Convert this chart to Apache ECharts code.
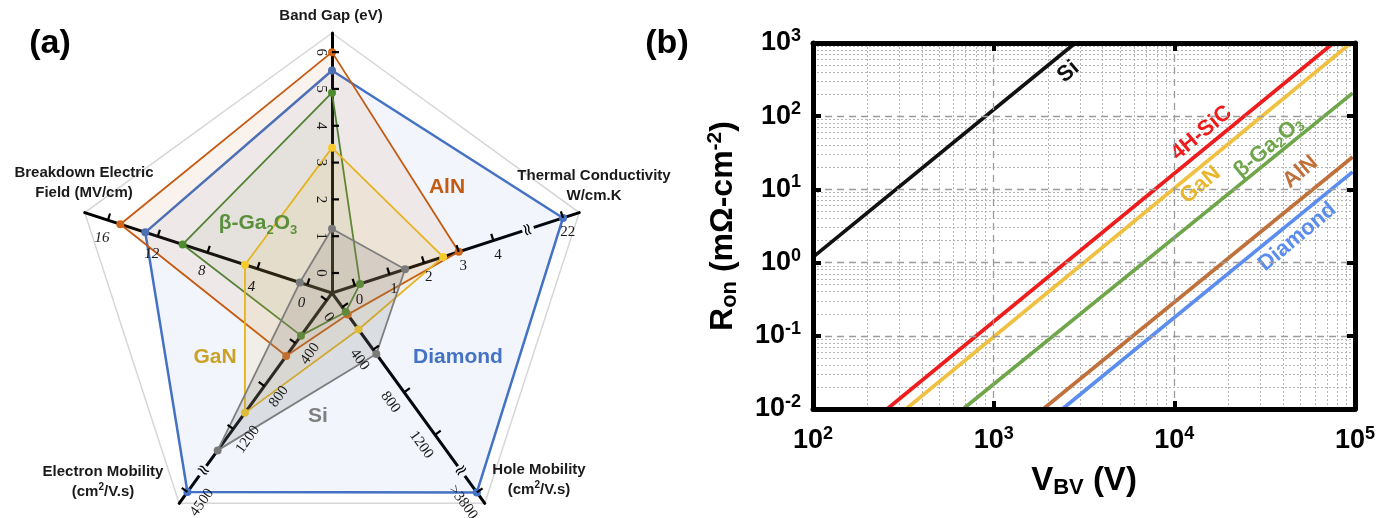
<!DOCTYPE html>
<html><head><meta charset="utf-8">
<script src="https://cdn.jsdelivr.net/npm/echarts@6/dist/echarts.min.js"></script>
<style>html,body{margin:0;padding:0;background:#fff}#c{width:1390px;height:518px}</style>
</head><body><div id="c"></div>
<script>
// ================= Panel (a): radar data =================
const materials = ['Diamond', 'AlN', 'β-Ga2O3', 'GaN', 'Si'];
const bandGap          = [5.5, 6.0, 4.9, 3.4, 1.2];      // eV
const breakdownField   = [13, 15, 10, 5, 0.6];           // MV/cm
const electronMobility = [4500, 520, 330, 1050, 1400];   // cm2/V.s
const holeMobility     = [3800, 70, 45, 210, 440];       // cm2/V.s
const thermalCond      = [22, 3.0, 0.15, 2.55, 1.45];    // W/cm.K

// tick values and labels of each radar axis
const bandGapTicks = [0, 1, 2, 3, 4, 5, 6];
const bandGapTickLabels = ['0', '1', '2', '3', '4', '5', '6'];
const breakdownTicks = [0, 4, 8, 12, 16];
const breakdownTickLabels = ['0', '4', '8', '12', '16'];
const electronTicks = [0, 400, 800, 1200, 4500];
const electronTickLabels = ['', '400', '800', '1200', '4500'];
const holeTicks = [0, 400, 800, 1200, 3800];
const holeTickLabels = ['0', '400', '800', '1200', '>3800'];
const thermalTicks = [0, 1, 2, 3, 4, 22];
const thermalTickLabels = ['0', '1', '2', '3', '4', '22'];

// axis breaks (collapsed value ranges) of the broken axes
const electronBreak = {start: 1590, end: 4302};
const holeBreak = {start: 1540, end: 3599};
const thermalBreak = {start: 5.0, end: 20.99};

// ================= Panel (b): Ron vs VBV =================
const lineNames = ['Si', '4H-SiC', 'GaN', 'β-Ga2O3', 'AlN', 'Diamond'];
const siLine      = [[100, 1.19], [2830, 1000]];
const sicLine     = [[257, 0.01], [76000, 1000]];
const ganLine     = [[327, 0.01], [95000, 1000]];
const ga2o3Line   = [[677, 0.01], [97000, 207]];
const alnLine     = [[1880, 0.01], [97000, 27.7]];
const diamondLine = [[2400, 0.01], [97000, 17.3]];
const xTickValues = [100, 1000, 10000, 100000];
const yTickValues = [0.01, 0.1, 1, 10, 100, 1000];

// ================= styling =================
const radarColors = {Diamond: '#4472C4', AlN: '#C55A11', 'β-Ga2O3': '#548235', GaN: '#E6B422', Si: '#7F7F7F'};
const radarDot = {Diamond: '#4472C4', AlN: '#D2661A', 'β-Ga2O3': '#4E8A2E', GaN: '#F7CB2A', Si: '#7A7A7A'};
const radarFill = {Diamond: 0.07, AlN: 0.08, 'β-Ga2O3': 0.06, GaN: 0.09, Si: 0.2};
const lineColors = {'Si': '#111111', '4H-SiC': '#EE1C1C', 'GaN': '#F0C040', 'β-Ga2O3': '#6FA64A', 'AlN': '#C0703A', 'Diamond': '#5B8DEF'};

const SANS = 'Liberation Sans, Arial, sans-serif';
const SERIF = 'Liberation Serif, DejaVu Serif, serif';

function toAxis(v, brk) {
  if (!brk || v <= brk.start) return v;
  return v - (brk.end - brk.start);
}

// radar axis definitions (order = counter-clockwise from top)
const radarAxes = [
  {name: 'Band Gap (eV)', min: -0.543, max: 6.52, values: bandGap, ticks: bandGapTicks, labels: bandGapTickLabels, brk: null,
   tickSide: 1, labelSide: -1, labelDist: 11, labelRot: -Math.PI / 2, italic: false},
  {name: 'Breakdown', min: -1.985, max: 17.86, values: breakdownField, ticks: breakdownTicks, labels: breakdownTickLabels, brk: null,
   tickSide: 1, labelSide: -1, labelDist: 19, labelRot: 0, italic: true},
  {name: 'Electron', min: -67.9, max: 1894, values: electronMobility, ticks: electronTicks, labels: electronTickLabels, brk: electronBreak,
   tickSide: 1, labelSide: -1, labelDist: 18, labelRot: 54 * Math.PI / 180, italic: false},
  {name: 'Hole', min: -133, max: 1844, values: holeMobility, ticks: holeTicks, labels: holeTickLabels, brk: holeBreak,
   tickSide: -1, labelSide: 1, labelDist: 17, labelRot: -54 * Math.PI / 180, italic: false},
  {name: 'Thermal', min: -0.659, max: 6.48, values: thermalCond, ticks: thermalTicks, labels: thermalTickLabels, brk: thermalBreak,
   tickSide: -1, labelSide: 1, labelDist: 15, labelRot: 0, italic: false}
];

const radarSeries = materials.map((m, k) => ({
  type: 'radar', radarIndex: 0, name: m, z: 2 + k,
  symbol: 'circle', symbolSize: 8,
  itemStyle: {color: radarDot[m]},
  lineStyle: {color: radarColors[m], width: m === 'Diamond' ? 2.5 : 1.8},
  areaStyle: {color: radarColors[m], opacity: radarFill[m]},
  data: [{name: m, value: radarAxes.map(a => toAxis(a.values[k], a.brk))}]
}));

// ---------------- panel (b) series ----------------
const lineData = [siLine, sicLine, ganLine, ga2o3Line, alnLine, diamondLine];
const lineLabelAnchor = {
  'Si': [2590, 402], '4H-SiC': [14120, 58.9], 'GaN': [13930, 11.5],
  'β-Ga2O3': [33190, 37.9], 'AlN': [49900, 17.3], 'Diamond': [47990, 2.24]
};
const lineLabelText = {'β-Ga2O3': '{t|β-Ga}{s|2}{t|O}{s|3}'};

const lineSeries = lineNames.map((n, k) => ({
  type: 'line', name: n, xAxisIndex: 0, yAxisIndex: 0, z: 4,
  data: lineData[k], showSymbol: false, symbol: 'none',
  lineStyle: {color: lineColors[n], width: 3.6},
  markPoint: {
    symbol: 'rect', symbolSize: 1, silent: true,
    itemStyle: {color: 'rgba(0,0,0,0)'},
    label: {
      show: true, position: 'inside', rotate: 40,
      color: n === 'GaN' ? '#E8B62C' : lineColors[n],
      fontFamily: SANS, fontWeight: 'bold', fontSize: 22,
      formatter: lineLabelText[n] || n,
      rich: {t: {fontFamily: SANS, fontWeight: 'bold', fontSize: 22, color: lineColors[n]},
             s: {fontFamily: SANS, fontWeight: 'bold', fontSize: 14, color: lineColors[n], verticalAlign: 'bottom', padding: [10, 0, 0, 0]}}
    },
    data: [{coord: lineLabelAnchor[n]}]
  }
}));

// minor grid lines of the log axes
const minorX = [], minorY = [];
xTickValues.slice(0, -1).forEach(d => { for (let m = 2; m <= 9; m++) minorX.push(m * d); });
yTickValues.slice(0, -1).forEach(d => { for (let m = 2; m <= 9; m++) minorY.push(+(m * d).toPrecision(3)); });

const gridHelper = {
  type: 'line', xAxisIndex: 0, yAxisIndex: 0, z: 1, data: [], silent: true,
  markLine: {
    silent: true, z: 1, symbol: ['none', 'none'], label: {show: false},
    lineStyle: {color: '#b5b5b5', type: [2, 2], width: 1},
    data: minorX.map(v => ({xAxis: v})).concat(minorY.map(v => ({yAxis: v})))
  }
};

function expLabel(v) {
  const e = Math.round(Math.log10(v));
  return '{b|10}{s|' + e + '}';
}
const tickRich = {
  b: {fontFamily: SANS, fontWeight: 'bold', fontSize: 27, color: '#000'},
  s: {fontFamily: SANS, fontWeight: 'bold', fontSize: 18, color: '#000', verticalAlign: 'top', padding: [0, 0, 14, 0]}
};
const logMain = {type: 'log', logBase: 10};

const option = {
  animation: false,
  backgroundColor: '#fff',
  radar: {
    center: [332, 293], radius: 260, startAngle: 90, splitNumber: 1, shape: 'polygon',
    indicator: radarAxes.map(a => ({name: '', min: a.min, max: a.max})),
    axisName: {show: false},
    axisLine: {lineStyle: {color: '#000', width: 3}},
    axisTick: {show: false}, axisLabel: {show: false},
    splitLine: {lineStyle: {color: '#d6d6d6', width: 1.5}},
    splitArea: {show: false}
  },
  grid: {left: 813, right: 35, top: 43, bottom: 109, show: false},
  xAxis: [
    Object.assign({}, logMain, {
      min: 100, max: 100000, position: 'bottom', z: 6,
      axisLine: {lineStyle: {color: '#000', width: 5}},
      axisTick: {inside: true, length: 8, lineStyle: {color: '#000', width: 4}},
      axisLabel: {formatter: expLabel, rich: tickRich, margin: 16},
      splitLine: {show: true, lineStyle: {color: '#9c9c9c', width: 1.3, type: [7, 5]}},
      name: 'V{sub|BV} (V)', nameLocation: 'middle', nameGap: 54,
      nameTextStyle: {fontFamily: SANS, fontWeight: 'bold', fontSize: 33, color: '#000',
        rich: {sub: {fontFamily: SANS, fontWeight: 'bold', fontSize: 22, color: '#000', verticalAlign: 'bottom', padding: [14, 0, 0, 0]}}}
    }),
    Object.assign({}, logMain, {
      min: 100, max: 100000, position: 'top', z: 6,
      axisLine: {lineStyle: {color: '#000', width: 5}},
      axisTick: {inside: true, length: 8, lineStyle: {color: '#000', width: 4}},
      axisLabel: {show: false}, splitLine: {show: false}
    })
  ],
  yAxis: [
    Object.assign({}, logMain, {
      min: 0.01, max: 1000, position: 'left', z: 6,
      axisLine: {lineStyle: {color: '#000', width: 5}},
      axisTick: {inside: true, length: 8, lineStyle: {color: '#000', width: 4}},
      axisLabel: {formatter: expLabel, rich: tickRich, margin: 12},
      splitLine: {show: true, lineStyle: {color: '#9c9c9c', width: 1.3, type: [7, 5]}},
      name: 'R{sub|on} (mΩ-cm{sup|-2})', nameLocation: 'middle', nameGap: 72, nameRotate: 90,
      nameTextStyle: {fontFamily: SANS, fontWeight: 'bold', fontSize: 32, color: '#000',
        rich: {
          sub: {fontFamily: SANS, fontWeight: 'bold', fontSize: 22, color: '#000', verticalAlign: 'bottom', padding: [14, 0, 0, 0]},
          sup: {fontFamily: SANS, fontWeight: 'bold', fontSize: 21, color: '#000', verticalAlign: 'top', padding: [0, 0, 14, 0]}
        }}
    }),
    Object.assign({}, logMain, {
      min: 0.01, max: 1000, position: 'right', z: 6,
      axisLine: {lineStyle: {color: '#000', width: 5}},
      axisTick: {inside: true, length: 8, lineStyle: {color: '#000', width: 4}},
      axisLabel: {show: false}, splitLine: {show: false}
    })
  ],
  series: radarSeries.concat([gridHelper]).concat(lineSeries)
};

const chart = echarts.init(document.getElementById('c'));
chart.setOption(option);

// ---------- radar ticks, tick labels, breaks and annotations (placed with the radar's own scale) ----------
let cs = null;
try { cs = chart.getModel().getComponent('radar', 0).coordinateSystem; } catch (e) { cs = null; }
function pt(v, i) {
  if (cs && cs.dataToPoint) return cs.dataToPoint(v, i);
  const a = radarAxes[i];
  const ang = (90 + 72 * i) * Math.PI / 180;
  const r = 260 * (v - a.min) / (a.max - a.min);
  return [332 + r * Math.cos(ang), 293 - r * Math.sin(ang)];
}

const graphics = [];
radarAxes.forEach((a, i) => {
  const c = pt(a.min, i), e = pt(a.max, i);
  const len = Math.hypot(e[0] - c[0], e[1] - c[1]);
  const u = [(e[0] - c[0]) / len, (e[1] - c[1]) / len];
  const p = [-u[1], u[0]];
  a.ticks.forEach((tv, j) => {
    const q = pt(toAxis(tv, a.brk), i);
    graphics.push({type: 'line', z: 20, silent: true,
      shape: {x1: q[0], y1: q[1], x2: q[0] + p[0] * 7 * a.tickSide, y2: q[1] + p[1] * 7 * a.tickSide},
      style: {stroke: '#000', lineWidth: 2.2}});
    if (a.labels[j]) {
      graphics.push({type: 'text', z: 20, silent: true,
        x: q[0] + p[0] * a.labelDist * a.labelSide, y: q[1] + p[1] * a.labelDist * a.labelSide,
        rotation: a.labelRot,
        style: {text: a.labels[j], fontFamily: SERIF, fontSize: 15, fontStyle: a.italic ? 'italic' : 'normal',
          fill: '#1a1a1a', align: 'center', verticalAlign: 'middle'}});
    }
  });
  if (a.brk) {
    const q = pt(a.brk.start, i);
    const ang = Math.atan2(-u[1], u[0]);
    // gap in the axis line at the break
    graphics.push({type: 'line', z: 19, silent: true,
      shape: {x1: q[0] - u[0] * 6, y1: q[1] - u[1] * 6, x2: q[0] + u[0] * 6, y2: q[1] + u[1] * 6},
      style: {stroke: '#f1f4fa', lineWidth: 5}});
    graphics.push({type: 'text', z: 21, silent: true, x: q[0], y: q[1], rotation: ang + Math.PI / 2,
      style: {text: '≈', fontFamily: 'DejaVu Sans', fontSize: 17, fill: '#000',
        align: 'center', verticalAlign: 'middle'}});
  }
});

function txt(x, y, text, size, color, extra) {
  return Object.assign({type: 'text', z: 30, silent: true, x: x, y: y,
    style: Object.assign({text: text, fontFamily: SANS, fontWeight: 'bold', fontSize: size, fill: color,
      align: 'center', verticalAlign: 'middle', lineHeight: Math.round(size * 1.35)}, extra || {})});
}
// axis names
graphics.push(txt(331, 16, 'Band Gap (eV)', 15, '#1a1a1a'));
graphics.push(txt(594, 186, 'Thermal Conductivity\nW/cm.K', 15, '#1a1a1a'));
graphics.push(txt(84, 183, 'Breakdown Electric\nField (MV/cm)', 15, '#1a1a1a'));
graphics.push(txt(103, 482, 'Electron Mobility\n({n|cm}{p|2}{n|/V.s})', 15, '#1a1a1a',
  {rich: {n: {fontFamily: SANS, fontWeight: 'bold', fontSize: 15, fill: '#1a1a1a'},
          p: {fontFamily: SANS, fontWeight: 'bold', fontSize: 10, fill: '#1a1a1a', verticalAlign: 'top'}}}));
graphics.push(txt(539, 480, 'Hole Mobility\n({n|cm}{p|2}{n|/V.s})', 15, '#1a1a1a',
  {rich: {n: {fontFamily: SANS, fontWeight: 'bold', fontSize: 15, fill: '#1a1a1a'},
          p: {fontFamily: SANS, fontWeight: 'bold', fontSize: 10, fill: '#1a1a1a', verticalAlign: 'top'}}}));
// material labels inside the radar
graphics.push(txt(447, 187, 'AlN', 21, '#C55A11'));
graphics.push(txt(258, 223, '{t|β-Ga}{s|2}{t|O}{s|3}', 21, '#5A8F3C',
  {rich: {t: {fontFamily: SANS, fontWeight: 'bold', fontSize: 21, fill: '#5A8F3C'},
          s: {fontFamily: SANS, fontWeight: 'bold', fontSize: 13, fill: '#5A8F3C', verticalAlign: 'bottom'}}}));
graphics.push(txt(215, 357, 'GaN', 21, '#C9A227'));
graphics.push(txt(458, 357, 'Diamond', 21, '#4472C4'));
graphics.push(txt(318, 416, 'Si', 21, '#7F7F7F'));
// panel letters
graphics.push(txt(50, 44, '(a)', 34, '#000'));
graphics.push(txt(667, 44, '(b)', 34, '#000'));

chart.setOption({graphic: graphics});
</script>
</body></html>
